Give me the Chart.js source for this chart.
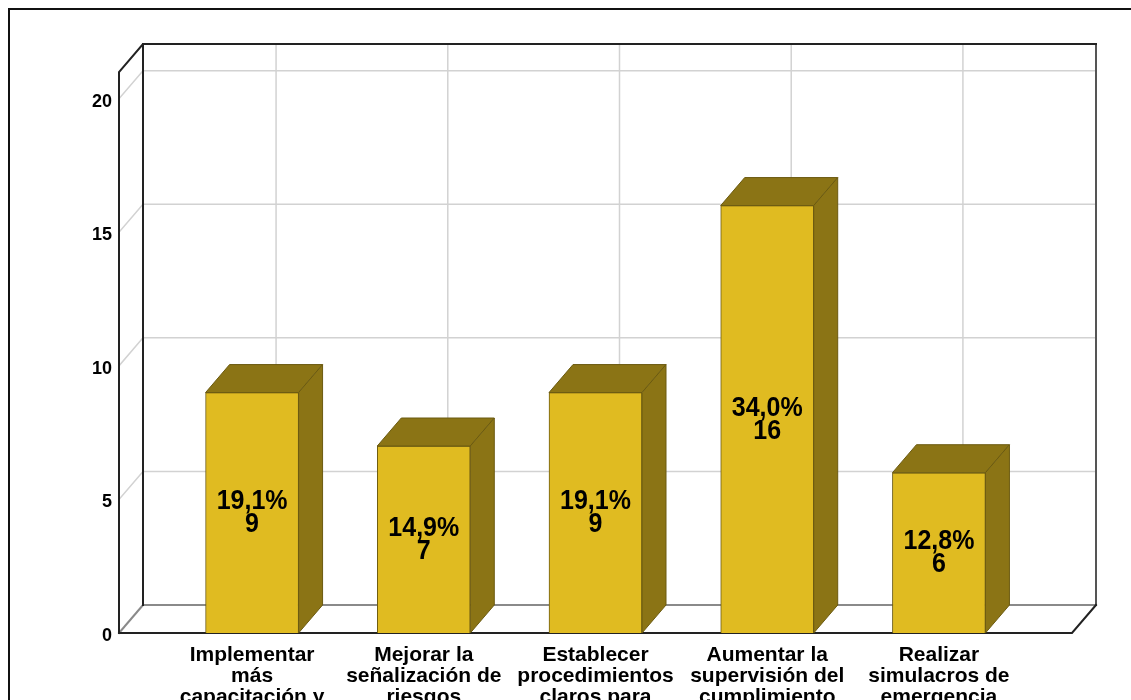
<!DOCTYPE html>
<html>
<head>
<meta charset="utf-8">
<script src="https://cdn.jsdelivr.net/npm/chart.js@4.4.1/dist/chart.umd.min.js"></script>
<style>
  html, body { margin: 0; padding: 0; background: #fff; }
  #wrap { position: relative; width: 1131px; height: 700px; overflow: hidden; background: #fff; }
  #frame { position: absolute; left: 8px; top: 8px; width: 1300px; height: 900px;
           border-left: 2px solid #111; border-top: 2px solid #111; }
  #myChart { position: absolute; left: 0; top: 0; }
</style>
</head>
<body>
<div id="wrap">
  <div id="frame"></div>
  <canvas id="myChart" width="1131" height="760"></canvas>
</div>
<script>
// categories (wrapped over several lines like the axis shows them)
var categories = [
    ['Implementar', 'más', 'capacitación y'],
    ['Mejorar la', 'señalización de', 'riesgos'],
    ['Establecer', 'procedimientos', 'claros para'],
    ['Aumentar la', 'supervisión del', 'cumplimiento'],
    ['Realizar', 'simulacros de', 'emergencia']
];
var counts = [9, 7, 9, 16, 6];
var percents = ['19,1%', '14,9%', '19,1%', '34,0%', '12,8%'];
var yTicks = [0, 5, 10, 15, 20];

const FONT = '"Liberation Sans", Arial, sans-serif';
const DX = 24;   // depth of the 3d box, to the right
const DY = -28;  // depth of the 3d box, upwards
const BAR_FRONT = '#E0BB21';
const BAR_DARK = '#8B7415';
const BAR_EDGE = '#6b5a10';

function line(ctx, pts) {
    ctx.beginPath();
    ctx.moveTo(pts[0][0], pts[0][1]);
    for (let i = 1; i < pts.length; i++) ctx.lineTo(pts[i][0], pts[i][1]);
    ctx.stroke();
}

// walls, floor and grid of the box, behind the bars
const box3d = {
    id: 'box3d',
    beforeDatasetsDraw(chart) {
        const ctx = chart.ctx;
        const a = chart.chartArea;
        const x = chart.scales.x, y = chart.scales.y;
        ctx.save();
        ctx.lineCap = 'square';

        // grid lines
        ctx.strokeStyle = '#d2d2d2';
        ctx.lineWidth = 1.5;
        yTicks.forEach(v => {
            if (v == 0) return;
            const py = y.getPixelForValue(v);
            line(ctx, [[a.left, py], [a.left + DX, py + DY], [a.right + DX, py + DY]]);
        });
        for (let i = 0; i < categories.length; i++) {
            const px = x.getPixelForValue(i) + DX;
            line(ctx, [[px, a.top + DY], [px, a.bottom + DY]]);
        }

        // back floor edge and floor diagonal on the left
        ctx.strokeStyle = '#8a8a8a';
        ctx.lineWidth = 2;
        line(ctx, [[a.left + DX, a.bottom + DY], [a.right + DX, a.bottom + DY]]);
        line(ctx, [[a.left, a.bottom], [a.left + DX, a.bottom + DY]]);

        // back right edge
        ctx.strokeStyle = '#555';
        line(ctx, [[a.right + DX, a.top + DY], [a.right + DX, a.bottom + DY]]);

        // dark outline of the left wall and back top
        ctx.strokeStyle = '#222';
        line(ctx, [[a.left, a.bottom], [a.left, a.top], [a.left + DX, a.top + DY], [a.right + DX, a.top + DY]]);
        line(ctx, [[a.left + DX, a.top + DY], [a.left + DX, a.bottom + DY]]);
        line(ctx, [[a.left, a.bottom], [a.right, a.bottom], [a.right + DX, a.bottom + DY]]);
        ctx.restore();
    },
    afterDatasetsDraw(chart) {
        const ctx = chart.ctx;
        const bars = chart.getDatasetMeta(0).data;
        ctx.save();
        bars.forEach((el, i) => {
            const l = el.x - el.width / 2, r = el.x + el.width / 2;
            const t = el.y, b = el.base;
            ctx.fillStyle = BAR_DARK;
            ctx.strokeStyle = BAR_EDGE;
            ctx.lineWidth = 1;
            // top face
            ctx.beginPath();
            ctx.moveTo(l, t); ctx.lineTo(l + DX, t + DY); ctx.lineTo(r + DX, t + DY); ctx.lineTo(r, t);
            ctx.closePath(); ctx.fill(); ctx.stroke();
            // side face
            ctx.beginPath();
            ctx.moveTo(r, t); ctx.lineTo(r + DX, t + DY); ctx.lineTo(r + DX, b + DY); ctx.lineTo(r, b);
            ctx.closePath(); ctx.fill(); ctx.stroke();

            // value labels, slightly stretched upright
            const mid = (t + b) / 2;
            ctx.save();
            ctx.translate(el.x, mid);
            ctx.scale(1, 1.12);
            ctx.fillStyle = '#000';
            ctx.font = 'bold 25px ' + FONT;
            ctx.textAlign = 'center';
            ctx.textBaseline = 'middle';
            ctx.fillText(percents[i], 0, -10);
            ctx.fillText(String(counts[i]), 0, 10.5);
            ctx.restore();
        });
        ctx.restore();
    }
};

const ctx = document.getElementById('myChart').getContext('2d');
const myChart = new Chart(ctx, {
    type: 'bar',
    data: {
        datasets: [{
            data: counts.map((c, i) => ({x: i, y: c})),
            backgroundColor: BAR_FRONT,
            borderColor: BAR_EDGE,
            borderWidth: 1,
            barThickness: 93
        }]
    },
    options: {
        responsive: false,
        animation: false,
        devicePixelRatio: 1,
        layout: { padding: { top: 72, right: 59, left: 0, bottom: 0 } },
        plugins: { legend: { display: false }, tooltip: { enabled: false } },
        scales: {
            x: {
                type: 'linear',
                offset: false,
                min: -0.775,
                max: 4.775,
                grid: { display: false, drawTicks: false },
                border: { display: false },
                afterBuildTicks: (scale) => { scale.ticks = categories.map((c, i) => ({value: i})); },
                afterFit: (scale) => { scale.height = 760 - 633; },
                ticks: {
                    autoSkip: false,
                    maxRotation: 0,
                    minRotation: 0,
                    padding: 12,
                    color: '#000',
                    font: { family: FONT, size: 21, weight: 'bold', lineHeight: 1.0 },
                    callback: (v) => categories[v]
                }
            },
            y: {
                min: 0,
                max: 21,
                grid: { display: false, drawTicks: false },
                border: { display: false },
                afterBuildTicks: (scale) => { scale.ticks = yTicks.map(v => ({value: v})); },
                afterFit: (scale) => { scale.width = 119; },
                ticks: {
                    padding: 7,
                    labelOffset: 3,
                    color: '#000',
                    font: { family: FONT, size: 18, weight: 'bold' }
                }
            }
        }
    },
    plugins: [box3d]
});
</script>
</body>
</html>
